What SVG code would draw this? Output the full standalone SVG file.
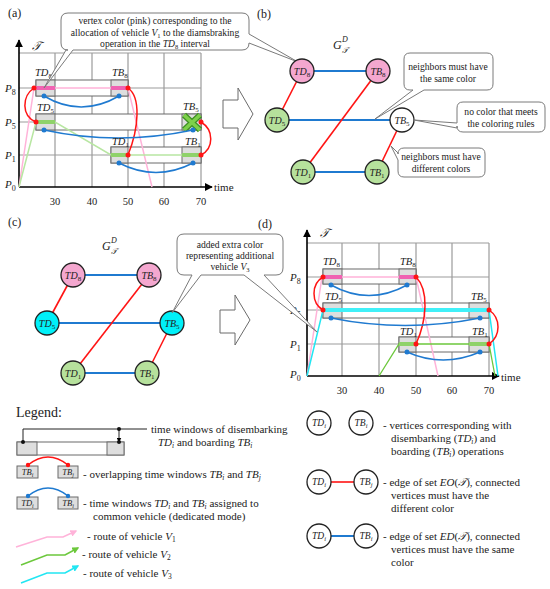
<svg xmlns="http://www.w3.org/2000/svg" width="550" height="589" viewBox="0 0 550 589">
<style>
.t{font-family:"Liberation Serif","DejaVu Serif",serif;fill:#222}
.m{font-style:italic}
.sc{font-family:"DejaVu Serif","DejaVu Sans",serif;font-style:italic}
.grid{stroke:#9c9c9c;stroke-width:1.2;fill:none}
.ax{stroke:#000;stroke-width:1.6;fill:none}
.win{fill:#fff;stroke:#6b6b6b;stroke-width:1}
.gw{fill:#dedede;stroke:#6b6b6b;stroke-width:1}
.red{stroke:#ff1414;stroke-width:1.5;fill:none}
.blu{stroke:#1f7ad0;stroke-width:1.5;fill:none}
.rd{fill:#ff1414}
.bd{fill:#1f7ad0}
.pk{stroke:#ffb3d9;stroke-width:1.5;fill:none}
.pkT{stroke:#f062b2;stroke-width:4}
.gr{stroke:#b8e6a2;stroke-width:1.5;fill:none}
.gr2{stroke:#6cc83c;stroke-width:1.3;fill:none}
.grT{stroke:#8fd26a;stroke-width:4}
.cy{stroke:#22e6f2;stroke-width:1.5;fill:none}
.cyT{stroke:#40f0f8;stroke-width:4}
.node circle{stroke:#222;stroke-width:1.3}
.call{fill:#fff;stroke:#7a7a7a;stroke-width:1}
.earr{fill:#fff;stroke:#6b6b6b;stroke-width:1}
.eb{stroke:#1f7ad0;stroke-width:2}
.er{stroke:#ff1414;stroke-width:1.6}
.lg{font-size:11px}
</style>
<defs>
<marker id="ah" viewBox="0 0 10 10" refX="9" refY="5" markerWidth="8" markerHeight="8" markerUnits="userSpaceOnUse" orient="auto"><path d="M0,0 L10,5 L0,10 Z" fill="#000"/></marker>
<marker id="ahs" viewBox="0 0 10 10" refX="9" refY="5" markerWidth="5" markerHeight="5" markerUnits="userSpaceOnUse" orient="auto"><path d="M0,0 L10,5 L0,10 Z" fill="#000"/></marker>
<marker id="apk" viewBox="0 0 10 10" refX="8" refY="5" markerWidth="7" markerHeight="7" markerUnits="userSpaceOnUse" orient="auto"><path d="M0,0 L10,5 L0,10 Z" fill="#ffb3d9"/></marker>
<marker id="agr" viewBox="0 0 10 10" refX="8" refY="5" markerWidth="7" markerHeight="7" markerUnits="userSpaceOnUse" orient="auto"><path d="M0,0 L10,5 L0,10 Z" fill="#6cc83c"/></marker>
<marker id="acy" viewBox="0 0 10 10" refX="8" refY="5" markerWidth="7" markerHeight="7" markerUnits="userSpaceOnUse" orient="auto"><path d="M0,0 L10,5 L0,10 Z" fill="#22e6f2"/></marker>
</defs>
<rect width="550" height="589" fill="#fff"/>

<!-- ================= PANEL A ================= -->
<text class="t" x="8" y="17" font-size="12">(a)</text>
<path class="grid" d="M55,53V187 M92,53V187 M128,53V187 M164,53V187 M201,53V187 M19,53H201 M19,88H201 M19,122H201 M19,155H201"/>
<path class="ax" d="M19,187V40" marker-end="url(#ah)"/>
<path class="ax" d="M19,187H212" marker-end="url(#ah)"/>
<text class="t sc" x="32" y="50" font-size="12">𝒯</text>
<g class="t" font-size="11">
<text x="5" y="92"><tspan class="m">P</tspan><tspan dy="2.5" font-size="8">8</tspan></text>
<text x="5" y="126"><tspan class="m">P</tspan><tspan dy="2.5" font-size="8">5</tspan></text>
<text x="5" y="159"><tspan class="m">P</tspan><tspan dy="2.5" font-size="8">1</tspan></text>
<text x="5" y="188"><tspan class="m">P</tspan><tspan dy="2.5" font-size="8">0</tspan></text>
</g>
<g class="t" font-size="10.5" text-anchor="middle">
<text x="55" y="205">30</text><text x="92" y="205">40</text><text x="128" y="205">50</text><text x="164" y="205">60</text><text x="201" y="205">70</text>
</g>
<text class="t" x="214" y="191" font-size="11">time</text>

<g id="a-win8"><rect class="win" x="36" y="80" width="92" height="16"/><rect class="gw" x="36" y="80" width="19" height="16"/><rect class="gw" x="111" y="80" width="17" height="16"/></g>
<g id="a-win5"><rect class="win" x="36" y="114" width="165" height="16"/><rect class="gw" x="36" y="114" width="19" height="16"/><rect class="gw" x="182" y="114" width="19" height="16"/></g>
<g id="a-win1"><rect class="win" x="111" y="147" width="90" height="16"/><rect class="gw" x="111" y="147" width="17" height="16"/><rect class="gw" x="182" y="147" width="19" height="16"/></g>

<g id="a-routes">
<path class="pk" d="M19,187 L34,88 L128,88 L152,187"/>
<path class="gr" d="M19,187 L36,122 L55,122 L111,155 L201,155"/>
<path class="pkT" d="M36,88H55 M111,88H128"/>
<path class="grT" d="M36,122H55 M111,155H128 M182,155H201"/>
<path d="M184,115 L200,130 M200,115 L184,130" stroke="#3d8f22" stroke-width="6"/>
<path d="M184,115 L200,130 M200,115 L184,130" stroke="#7dd04a" stroke-width="3.5"/>
</g>
<g id="a-connectors">
<path class="red" d="M34,88 C22,96 21,116 36,122"/>
<path class="red" d="M128,88 C141,97 139,128 128,155"/>
<path class="red" d="M201,122 C214,130 214,148 201,155"/>
<path class="blu" d="M44,96 Q81,118 119,96"/>
<path class="blu" d="M44,130 Q118,146 193,130"/>
<path class="blu" d="M119,163 Q156,182 193,163"/>
<g class="rd"><circle cx="34" cy="88" r="2.5"/><circle cx="128" cy="88" r="2.5"/><circle cx="36" cy="122" r="2.5"/><circle cx="201" cy="122" r="2.5"/><circle cx="128" cy="155" r="2.5"/><circle cx="201" cy="155" r="2.5"/></g>
<g class="bd"><circle cx="44" cy="96" r="2.5"/><circle cx="119" cy="96" r="2.5"/><circle cx="44" cy="130" r="2.5"/><circle cx="193" cy="130" r="2.5"/><circle cx="119" cy="163" r="2.5"/><circle cx="193" cy="163" r="2.5"/></g>
</g>
<g class="t" font-size="10.5">
<text x="35" y="76"><tspan class="m">TD</tspan><tspan dy="2" font-size="7">8</tspan></text>
<text x="112" y="76"><tspan class="m">TB</tspan><tspan dy="2" font-size="7">8</tspan></text>
<text x="37" y="111"><tspan class="m">TD</tspan><tspan dy="2" font-size="7">5</tspan></text>
<text x="183" y="110"><tspan class="m">TB</tspan><tspan dy="2" font-size="7">5</tspan></text>
<text x="112" y="145"><tspan class="m">TD</tspan><tspan dy="2" font-size="7">1</tspan></text>
<text x="185" y="145"><tspan class="m">TB</tspan><tspan dy="2" font-size="7">1</tspan></text>
</g>

<g id="callout-a">
<path class="call" d="M68,13 H242 Q249,13 249,20 V34 L298,62 L249,43 Q249,50 242,50 H73 L44,88 L66,50 H68 Q61,50 61,43 V20 Q61,13 68,13 Z"/>
<g class="t" font-size="9.6" text-anchor="middle">
<text x="155" y="24">vertex color (pink) corresponding to the</text>
<text x="155" y="36">allocation of vehicle <tspan class="m">V</tspan><tspan dy="2" font-size="6.5">1</tspan><tspan dy="-2"> to the diamsbraking</tspan></text>
<text x="155" y="47">operation in the <tspan class="m">TD</tspan><tspan dy="2" font-size="6.5">8</tspan><tspan dy="-2"> interval</tspan></text>
</g>
</g>

<polygon id="arrow-ab" class="earr" points="223,100 238,100 238,88 253,114 238,140 238,128 223,128"/>

<!-- ================= PANEL B ================= -->
<text class="t" x="257" y="18" font-size="12">(b)</text>
<g class="t">
<text x="333" y="49" font-size="12" class="m">G</text>
<text x="342" y="42" font-size="8" class="m">D</text>
<text x="342" y="53" font-size="8" class="sc">𝒯</text>
</g>
<g id="b-edges">
<line class="eb" x1="302" y1="71" x2="378" y2="71"/>
<line class="eb" x1="277" y1="120" x2="402" y2="120"/>
<line class="eb" x1="303" y1="172" x2="377" y2="172"/>
<line class="er" x1="302" y1="71" x2="277" y2="120"/>
<line class="er" x1="378" y1="71" x2="303" y2="172"/>
<line class="er" x1="402" y1="120" x2="377" y2="172"/>
</g>
<g id="b-TD8" class="node"><circle cx="302" cy="71" r="12" fill="#f4a7cf"/><text class="t" x="302" y="74.5" font-size="10" text-anchor="middle"><tspan class="m">TD</tspan><tspan dy="2" font-size="7">8</tspan></text></g>
<g id="b-TB8" class="node"><circle cx="378" cy="71" r="12" fill="#f4a7cf"/><text class="t" x="378" y="74.5" font-size="10" text-anchor="middle"><tspan class="m">TB</tspan><tspan dy="2" font-size="7">8</tspan></text></g>
<g id="b-TD5" class="node"><circle cx="277" cy="120" r="12" fill="#b6e19c"/><text class="t" x="277" y="123.5" font-size="10" text-anchor="middle"><tspan class="m">TD</tspan><tspan dy="2" font-size="7">5</tspan></text></g>
<g id="b-TB5" class="node"><circle cx="402" cy="120" r="12" fill="#fff"/><text class="t" x="402" y="123.5" font-size="10" text-anchor="middle"><tspan class="m">TB</tspan><tspan dy="2" font-size="7">5</tspan></text></g>
<g id="b-TD1" class="node"><circle cx="303" cy="172" r="12" fill="#b6e19c"/><text class="t" x="303" y="175.5" font-size="10" text-anchor="middle"><tspan class="m">TD</tspan><tspan dy="2" font-size="7">1</tspan></text></g>
<g id="b-TB1" class="node"><circle cx="377" cy="172" r="12" fill="#b6e19c"/><text class="t" x="377" y="175.5" font-size="10" text-anchor="middle"><tspan class="m">TB</tspan><tspan dy="2" font-size="7">1</tspan></text></g>

<g id="callout-b1">
<path class="call" d="M410,53 H487 Q493,53 493,59 V84 Q493,90 487,90 H424 L375,119 L413,90 H410 Q404,90 404,84 V59 Q404,53 410,53 Z"/>
<g class="t" font-size="9.6" text-anchor="middle"><text x="448" y="70">neighbors must have</text><text x="448" y="82">the same color</text></g>
</g>
<g id="callout-b2">
<path class="call" d="M463,102 H539 Q545,102 545,108 V126 Q545,132 539,132 H463 Q457,132 457,126 V128 L414,120 L457,123 V108 Q457,102 463,102 Z"/>
<g class="t" font-size="9.6" text-anchor="middle"><text x="501" y="115">no color that meets</text><text x="501" y="127">the coloring rules</text></g>
</g>
<g id="callout-b3">
<path class="call" d="M404,148 H479 Q485,148 485,154 V171 Q485,177 479,177 H404 Q398,177 398,171 V160 L391,146 L398,153 V154 Q398,148 404,148 Z"/>
<g class="t" font-size="9.6" text-anchor="middle"><text x="441" y="160">neighbors must have</text><text x="441" y="172">different colors</text></g>
</g>

<!-- ================= PANEL C ================= -->
<text class="t" x="8" y="226" font-size="12">(c)</text>
<g class="t">
<text x="102" y="250" font-size="12" class="m">G</text>
<text x="111" y="243" font-size="8" class="m">D</text>
<text x="111" y="254" font-size="8" class="sc">𝒯</text>
</g>
<g id="c-edges">
<line class="eb" x1="73" y1="275" x2="149" y2="275"/>
<line class="eb" x1="47" y1="323" x2="172" y2="323"/>
<line class="eb" x1="73" y1="373" x2="147" y2="373"/>
<line class="er" x1="73" y1="275" x2="47" y2="323"/>
<line class="er" x1="149" y1="275" x2="73" y2="373"/>
<line class="er" x1="172" y1="323" x2="147" y2="373"/>
</g>
<g id="c-TD8" class="node"><circle cx="73" cy="275" r="12" fill="#f4a7cf"/><text class="t" x="73" y="278.5" font-size="10" text-anchor="middle"><tspan class="m">TD</tspan><tspan dy="2" font-size="7">8</tspan></text></g>
<g id="c-TB8" class="node"><circle cx="149" cy="275" r="12" fill="#f4a7cf"/><text class="t" x="149" y="278.5" font-size="10" text-anchor="middle"><tspan class="m">TB</tspan><tspan dy="2" font-size="7">8</tspan></text></g>
<g id="c-TD5" class="node"><circle cx="47" cy="323" r="12" fill="#00f0f8"/><text class="t" x="47" y="326.5" font-size="10" text-anchor="middle"><tspan class="m">TD</tspan><tspan dy="2" font-size="7">5</tspan></text></g>
<g id="c-TB5" class="node"><circle cx="172" cy="323" r="12" fill="#00f0f8"/><text class="t" x="172" y="326.5" font-size="10" text-anchor="middle"><tspan class="m">TB</tspan><tspan dy="2" font-size="7">5</tspan></text></g>
<g id="c-TD1" class="node"><circle cx="73" cy="373" r="12" fill="#b6e19c"/><text class="t" x="73" y="376.5" font-size="10" text-anchor="middle"><tspan class="m">TD</tspan><tspan dy="2" font-size="7">1</tspan></text></g>
<g id="c-TB1" class="node"><circle cx="147" cy="373" r="12" fill="#b6e19c"/><text class="t" x="147" y="376.5" font-size="10" text-anchor="middle"><tspan class="m">TB</tspan><tspan dy="2" font-size="7">1</tspan></text></g>

<polygon id="arrow-cd" class="earr" points="220,310 235,310 235,295 250,320 235,345 235,333 220,333"/>

<!-- ================= PANEL D ================= -->
<text class="t" x="258" y="228" font-size="12">(d)</text>
<path class="grid" d="M342,243V376 M379,243V376 M416,243V376 M452,243V376 M489,243V376 M307,243H489 M307,277H489 M307,310H489 M307,344H489"/>
<path class="ax" d="M307,376V230" marker-end="url(#ah)"/>
<path class="ax" d="M307,376H499" marker-end="url(#ah)"/>
<text class="t sc" x="320" y="237" font-size="12">𝒯</text>
<g class="t" font-size="11">
<text x="290" y="281"><tspan class="m">P</tspan><tspan dy="2.5" font-size="8">8</tspan></text>
<text x="290" y="314"><tspan class="m">P</tspan><tspan dy="2.5" font-size="8">5</tspan></text>
<text x="290" y="348"><tspan class="m">P</tspan><tspan dy="2.5" font-size="8">1</tspan></text>
<text x="290" y="378"><tspan class="m">P</tspan><tspan dy="2.5" font-size="8">0</tspan></text>
</g>
<g class="t" font-size="10.5" text-anchor="middle">
<text x="342" y="394">30</text><text x="379" y="394">40</text><text x="416" y="394">50</text><text x="452" y="394">60</text><text x="489" y="394">70</text>
</g>
<text class="t" x="501" y="381" font-size="11">time</text>

<g id="d-win8"><rect class="win" x="323" y="269" width="93" height="15"/><rect class="gw" x="323" y="269" width="19" height="15"/><rect class="gw" x="399" y="269" width="17" height="15"/></g>
<g id="d-win5"><rect class="win" x="323" y="303" width="166" height="15"/><rect class="gw" x="323" y="303" width="19" height="15"/><rect class="gw" x="469" y="303" width="20" height="15"/></g>
<g id="d-win1"><rect class="win" x="399" y="337" width="90" height="15"/><rect class="gw" x="399" y="337" width="17" height="15"/><rect class="gw" x="469" y="337" width="20" height="15"/></g>

<g id="d-routes">
<path class="pk" d="M307,376 L322,277 L416,277 L438,376"/>
<path class="cy" d="M307,376 L323,310 L489,310 L498,376"/>
<path class="gr2" d="M379,376 L399,344 L489,344 L495,376"/>
<path class="pkT" d="M323,277H342 M399,277H416"/>
<path class="cyT" d="M323,310H489"/>
<path class="grT" d="M399,344H416 M469,344H489"/>
</g>
<g id="d-connectors">
<path class="red" d="M323,277 C311,284 311,303 323,310"/>
<path class="red" d="M416,277 C429,290 427,320 416,344"/>
<path class="red" d="M489,310 C501,318 501,336 489,344"/>
<path class="blu" d="M331,285 Q369,306 407,285"/>
<path class="blu" d="M331,318 Q405,333 480,318"/>
<path class="blu" d="M407,352 Q443,368 480,352"/>
<g class="rd"><circle cx="323" cy="277" r="2.5"/><circle cx="416" cy="277" r="2.5"/><circle cx="323" cy="310" r="2.5"/><circle cx="489" cy="310" r="2.5"/><circle cx="416" cy="344" r="2.5"/><circle cx="489" cy="344" r="2.5"/></g>
<g class="bd"><circle cx="331" cy="285" r="2.5"/><circle cx="407" cy="285" r="2.5"/><circle cx="331" cy="318" r="2.5"/><circle cx="480" cy="318" r="2.5"/><circle cx="407" cy="352" r="2.5"/><circle cx="480" cy="352" r="2.5"/></g>
</g>
<g class="t" font-size="10.5">
<text x="323" y="265"><tspan class="m">TD</tspan><tspan dy="2" font-size="7">8</tspan></text>
<text x="400" y="265"><tspan class="m">TB</tspan><tspan dy="2" font-size="7">8</tspan></text>
<text x="325" y="300"><tspan class="m">TD</tspan><tspan dy="2" font-size="7">5</tspan></text>
<text x="471" y="300"><tspan class="m">TB</tspan><tspan dy="2" font-size="7">5</tspan></text>
<text x="400" y="335"><tspan class="m">TD</tspan><tspan dy="2" font-size="7">1</tspan></text>
<text x="472" y="335"><tspan class="m">TB</tspan><tspan dy="2" font-size="7">1</tspan></text>
</g>

<g id="callout-c">
<path class="call" d="M184,234 H276 Q283,234 283,241 V268 Q283,275 276,275 H264 L317,332 L244,275 H201 L172,313 L192,275 H184 Q177,275 177,268 V241 Q177,234 184,234 Z"/>
<g class="t" font-size="9.6" text-anchor="middle">
<text x="230" y="248">added extra color</text>
<text x="230" y="259">representing additional</text>
<text x="230" y="270">vehicle <tspan class="m">V</tspan><tspan dy="2" font-size="6.5">3</tspan></text>
</g>
</g>

<!-- ================= LEGEND ================= -->
<text class="t" x="16" y="417" font-size="14">Legend:</text>
<g id="leg-window">
<rect class="win" x="17" y="442" width="107" height="13" stroke="#444"/>
<rect class="gw" x="17" y="442" width="20" height="13" stroke="#444"/>
<rect class="gw" x="107" y="442" width="17" height="13" stroke="#444"/>
<path d="M23,442 V429 H147 M119,429 V442" stroke="#222" stroke-width="1" fill="none" marker-end="url(#ahs)"/>
<circle cx="23" cy="442" r="2" fill="#111"/><circle cx="119" cy="429" r="2" fill="#111"/><circle cx="119" cy="442" r="2" fill="#111"/>
</g>
<g class="t lg">
<text x="151" y="433">time windows of disembarking</text>
<text x="158" y="446"><tspan class="m">TD</tspan><tspan dy="2" font-size="7.5" class="m">i</tspan><tspan dy="-2"> and boarding </tspan><tspan class="m">TB</tspan><tspan dy="2" font-size="7.5" class="m">i</tspan></text>
</g>
<g id="leg-overlap">
<rect class="gw" x="17" y="466" width="21" height="12" stroke="#555"/>
<rect class="gw" x="58" y="466" width="20" height="12" stroke="#555"/>
<g class="t" font-size="8.5" text-anchor="middle">
<text x="27.5" y="475"><tspan class="m">TB</tspan><tspan dy="1.5" font-size="6" class="m">i</tspan></text>
<text x="68" y="475"><tspan class="m">TB</tspan><tspan dy="1.5" font-size="6" class="m">j</tspan></text>
</g>
<path class="red" d="M28,465 Q48,449 68,465"/>
<circle class="rd" cx="28" cy="465" r="2.2"/><circle class="rd" cx="68" cy="465" r="2.2"/>
</g>
<text class="t lg" x="83" y="478">- overlapping time windows <tspan class="m">TB</tspan><tspan dy="2" font-size="7.5" class="m">i</tspan><tspan dy="-2"> and </tspan><tspan class="m">TB</tspan><tspan dy="2" font-size="7.5" class="m">j</tspan></text>
<g id="leg-common">
<rect class="gw" x="17" y="497" width="21" height="12" stroke="#555"/>
<rect class="gw" x="58" y="497" width="20" height="12" stroke="#555"/>
<g class="t" font-size="8.5" text-anchor="middle">
<text x="27.5" y="506"><tspan class="m">TD</tspan><tspan dy="1.5" font-size="6" class="m">i</tspan></text>
<text x="68" y="506"><tspan class="m">TB</tspan><tspan dy="1.5" font-size="6" class="m">i</tspan></text>
</g>
<path class="blu" d="M28,496 Q48,480 68,496"/>
<circle class="bd" cx="28" cy="496" r="2.2"/><circle class="bd" cx="68" cy="496" r="2.2"/>
</g>
<g class="t lg">
<text x="83" y="507">- time windows <tspan class="m">TD</tspan><tspan dy="2" font-size="7.5" class="m">i</tspan><tspan dy="-2"> and </tspan><tspan class="m">TB</tspan><tspan dy="2" font-size="7.5" class="m">i</tspan><tspan dy="-2"> assigned to</tspan></text>
<text x="93" y="520">common vehicle (dedicated mode)</text>
</g>
<g id="leg-routes">
<path d="M16,547 L47,537 L63,537 L76,531" stroke="#ffb3d9" stroke-width="1.6" fill="none" marker-end="url(#apk)"/>
<path d="M21,565 L47,555 L65,555 L78,548" stroke="#6cc83c" stroke-width="1.6" fill="none" marker-end="url(#agr)"/>
<path d="M21,583 L47,573 L65,573 L78,566" stroke="#22e6f2" stroke-width="1.6" fill="none" marker-end="url(#acy)"/>
</g>
<g class="t lg">
<text x="87" y="540">- route of vehicle <tspan class="m">V</tspan><tspan dy="2" font-size="7.5">1</tspan></text>
<text x="82" y="558">- route of vehicle <tspan class="m">V</tspan><tspan dy="2" font-size="7.5">2</tspan></text>
<text x="83" y="577">- route of vehicle <tspan class="m">V</tspan><tspan dy="2" font-size="7.5">3</tspan></text>
</g>

<g id="leg-vertices">
<g class="node"><circle cx="319" cy="423" r="12" fill="#fff" stroke-width="1.5"/><text class="t" x="319" y="426" font-size="9.5" text-anchor="middle"><tspan class="m">TD</tspan><tspan dy="2" font-size="6.5" class="m">i</tspan></text></g>
<g class="node"><circle cx="361" cy="423" r="12" fill="#fff" stroke-width="1.5"/><text class="t" x="361" y="426" font-size="9.5" text-anchor="middle"><tspan class="m">TB</tspan><tspan dy="2" font-size="6.5" class="m">i</tspan></text></g>
</g>
<g class="t lg">
<text x="383" y="429">- vertices corresponding with</text>
<text x="391" y="442">disembarking (<tspan class="m">TD</tspan><tspan dy="2" font-size="7.5" class="m">i</tspan><tspan dy="-2">) and</tspan></text>
<text x="391" y="455">boarding (<tspan class="m">TB</tspan><tspan dy="2" font-size="7.5" class="m">i</tspan><tspan dy="-2">) operations</tspan></text>
</g>
<g id="leg-eo">
<line class="er" x1="331" y1="482" x2="354" y2="482" stroke-width="2"/>
<g class="node"><circle cx="319" cy="482" r="12" fill="#fff" stroke-width="1.5"/><text class="t" x="319" y="485" font-size="9.5" text-anchor="middle"><tspan class="m">TD</tspan><tspan dy="2" font-size="6.5" class="m">i</tspan></text></g>
<g class="node"><circle cx="366" cy="482" r="12" fill="#fff" stroke-width="1.5"/><text class="t" x="366" y="485" font-size="9.5" text-anchor="middle"><tspan class="m">TB</tspan><tspan dy="2" font-size="6.5" class="m">j</tspan></text></g>
</g>
<g class="t lg">
<text x="383" y="486">- edge of set <tspan class="m">EO</tspan>(<tspan class="sc">𝒯</tspan>), connected</text>
<text x="391" y="499">vertices must have the</text>
<text x="391" y="512">different color</text>
</g>
<g id="leg-ed">
<line class="eb" x1="331" y1="536" x2="354" y2="536"/>
<g class="node"><circle cx="319" cy="536" r="12" fill="#fff" stroke-width="1.5"/><text class="t" x="319" y="539" font-size="9.5" text-anchor="middle"><tspan class="m">TD</tspan><tspan dy="2" font-size="6.5" class="m">i</tspan></text></g>
<g class="node"><circle cx="366" cy="536" r="12" fill="#fff" stroke-width="1.5"/><text class="t" x="366" y="539" font-size="9.5" text-anchor="middle"><tspan class="m">TB</tspan><tspan dy="2" font-size="6.5" class="m">i</tspan></text></g>
</g>
<g class="t lg">
<text x="383" y="540">- edge of set <tspan class="m">ED</tspan>(<tspan class="sc">𝒯</tspan>), connected</text>
<text x="391" y="553">vertices must have the same</text>
<text x="391" y="566">color</text>
</g>
</svg>
